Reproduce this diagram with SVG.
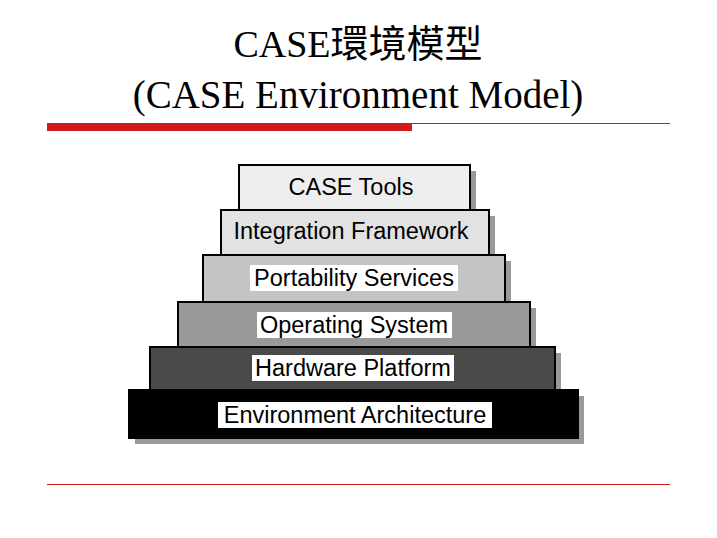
<svg xmlns="http://www.w3.org/2000/svg" width="717" height="538" viewBox="0 0 717 538">
<style>
.t{font-family:"Liberation Serif","Noto Sans CJK TC",serif;font-size:38px;fill:#000;text-anchor:middle}
.l{font-family:"Liberation Sans",Arial,sans-serif;font-size:23.5px;fill:#000;text-anchor:middle}
.b{stroke:#000;stroke-width:2}
.s{fill:#999}
.tb{fill:#fff}
</style>
<rect width="717" height="538" fill="#fff"/>
<text class="t" x="358" y="57">CASE環境模型</text>
<text class="t" x="358" y="108" style="font-size:39px">(CASE Environment Model)</text>
<rect x="47" y="123" width="365" height="8" fill="#d01c1c"/>
<line x1="412" y1="123.5" x2="670" y2="123.5" stroke="#d01c1c" stroke-width="1"/>
<line x1="47" y1="484.5" x2="670" y2="484.5" stroke="#d01c1c" stroke-width="1"/>
<g id="ct"><rect class="s" x="245" y="171" width="231" height="45"/><rect class="b" x="239" y="165" width="231" height="45" fill="#eeeeee"/><text class="l" x="351" y="195">CASE Tools</text></g>
<g id="if"><rect class="s" x="227" y="216" width="268" height="45"/><rect class="b" x="221" y="210" width="268" height="45" fill="#e2e2e2"/><text class="l" x="351" y="239">Integration Framework</text></g>
<g id="ps"><rect class="s" x="209" y="261" width="302" height="47"/><rect class="b" x="203" y="255" width="302" height="47" fill="#c4c4c4"/><rect class="tb" x="250" y="265" width="208" height="26"/><text class="l" x="354" y="286">Portability Services</text></g>
<g id="os"><rect class="s" x="184" y="308" width="352" height="45"/><rect class="b" x="178" y="302" width="352" height="45" fill="#999"/><rect class="tb" x="257" y="312" width="195" height="26"/><text class="l" x="354" y="333">Operating System</text></g>
<g id="hw"><rect class="s" x="156" y="353" width="405" height="43"/><rect class="b" x="150" y="347" width="405" height="43" fill="#4a4a4a"/><rect class="tb" x="252" y="355" width="202" height="26"/><text class="l" x="353" y="376">Hardware Platform</text></g>
<g id="env"><rect class="s" x="135" y="396" width="449" height="48"/><rect class="b" x="129" y="390" width="449" height="48" fill="#000"/><rect class="tb" x="218" y="402" width="274" height="26"/><text class="l" x="355" y="423">Environment Architecture</text></g>
</svg>
